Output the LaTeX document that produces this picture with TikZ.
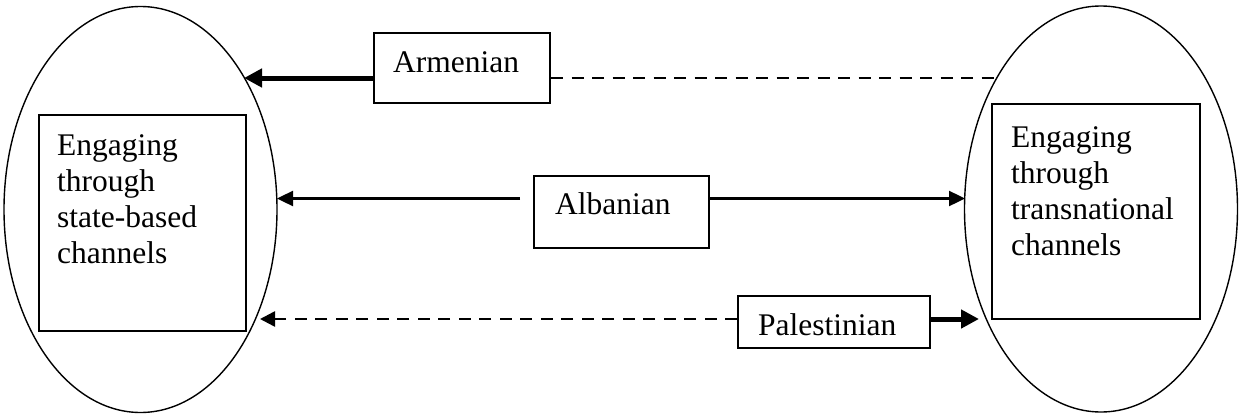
\documentclass[tikz,border=0pt]{standalone}
\usepackage{fontspec}
\setmainfont{Liberation Serif}
\usetikzlibrary{arrows.meta,shapes.geometric}
\begin{document}
\begin{tikzpicture}[x=1pt,y=-1pt,
  oval/.style={draw, ellipse, line width=1.4pt, inner sep=0pt, minimum width=273pt, minimum height=406pt},
  box/.style={draw, line width=2pt, inner sep=0pt, anchor=north west},
  lbl/.style={font=\fontsize{31.5}{36}\selectfont, anchor=base west, inner sep=0pt, align=left},
  thinarr/.style={line width=2.4pt, -{Triangle[length=16pt,width=15pt]}},
  thickarr/.style={line width=5pt, -{Triangle[length=18pt,width=18pt]}},
  dasharr/.style={line width=2.5pt, dash pattern=on 12pt off 8.5pt, -{Triangle[length=15pt,width=15pt]}},
  dashln/.style={line width=2.5pt, dash pattern=on 12pt off 8.5pt}]
\useasboundingbox (0,0) rectangle (1240,415);
% ovals
\node[oval] (L) at (140.5,209.5) {};
\node[oval] (R) at (1101,209) {};
% inner boxes
\node[box, minimum width=207pt, minimum height=216pt] (Lb) at (38,114) {};
\node[box, minimum width=208pt, minimum height=215pt] (Rb) at (991,103) {};
\node[lbl] (Lt) at (57,263) {Engaging\\through\\state-based\\channels};
\node[lbl] (Rt) at (1011,255) {Engaging\\through\\transnational\\channels};
% label boxes
\node[box, minimum width=176pt, minimum height=70pt] (arm) at (373,32) {};
\node[lbl] (armt) at (393,72) {Armenian};
\node[box, minimum width=175pt, minimum height=72pt] (alb) at (533,175) {};
\node[lbl] (albt) at (555,214) {Albanian};
\node[box, minimum width=192pt, minimum height=52pt] (pal) at (737,295) {};
\node[lbl] (palt) at (758,335) {Palestinian};
% end points
\coordinate (armL) at (244,78);
\coordinate (armR) at (995,78);
\coordinate (albS) at (520,198.5);
\coordinate (albL) at (277,198.5);
\coordinate (albR) at (965,198.5);
\coordinate (palL) at (260,319);
\coordinate (palR) at (979,319);
% connectors
\draw[thickarr] (arm.west |- armL) -- (armL);
\draw[dashln] (arm.east |- armR) -- (armR);
\draw[thinarr] (albS) -- (albL);
\draw[thinarr] (alb.east |- albR) -- (albR);
\draw[dasharr] (pal.west |- palL) -- (palL);
\draw[thickarr] (pal.east |- palR) -- (palR);
\end{tikzpicture}
\end{document}
